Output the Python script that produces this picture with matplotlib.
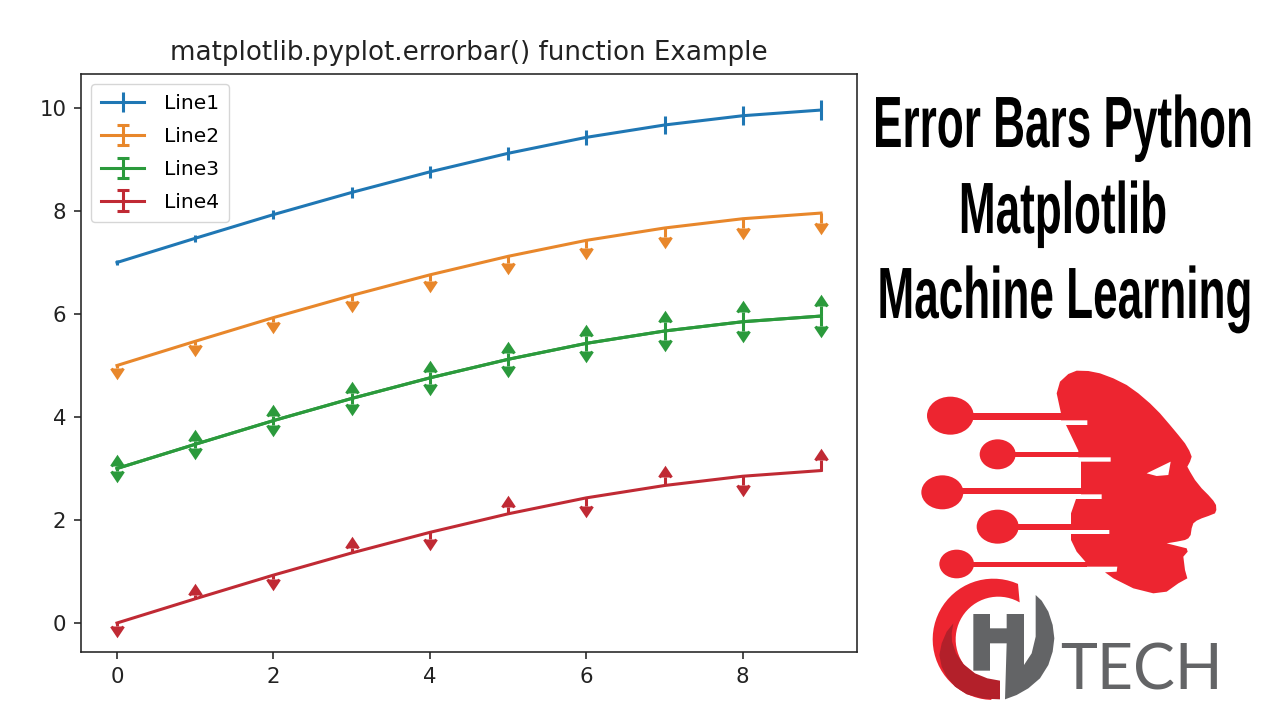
import numpy as np
import matplotlib
matplotlib.use('Agg')
import matplotlib.pyplot as plt
from matplotlib.patches import Polygon, Ellipse
from matplotlib.patheffects import AbstractPathEffect
from matplotlib.transforms import Affine2D

# Values
x = [0, 1, 2, 3, 4, 5, 6, 7, 8, 9]
line1 = [7.0, 7.47, 7.93, 8.36, 8.76, 9.12, 9.43, 9.67, 9.85, 9.96]
line2 = [5.0, 5.47, 5.93, 6.36, 6.76, 7.12, 7.43, 7.67, 7.85, 7.96]
line3 = [3.0, 3.47, 3.93, 4.36, 4.76, 5.12, 5.43, 5.67, 5.85, 5.96]
line4 = [0.0, 0.47, 0.93, 1.36, 1.76, 2.12, 2.43, 2.67, 2.85, 2.96]
yerr = [0.05, 0.07, 0.08, 0.1, 0.12, 0.13, 0.15, 0.17, 0.18, 0.2]
line4_up = [False, True, False, True, False, True, False, True, False, True]
line4_down = [True, False, True, False, True, False, True, False, True, False]
labels = ['Line1', 'Line2', 'Line3', 'Line4']
colors = ['#1f77b4', '#e8872b', '#2b9a3c', '#c02a34']
headings = ['Error Bars Python', 'Matplotlib', 'Machine Learning']

S = 1.43
LW = 2.2
CAP = 4.4

fig = plt.figure(figsize=(12.8, 7.2), dpi=100)
ax = fig.add_axes([81 / 1280, 1 - 652 / 720, 776 / 1280, 578 / 720])

style = dict(lw=LW, elinewidth=LW, capsize=CAP, capthick=LW)


def no_flat_caps(cont):
    # only the arrow heads show in the plot, the legend still gets its caps
    for c in cont[1]:
        if c.get_marker() == '_':
            c.set_marker('None')


ax.errorbar(x, line1, yerr=yerr, label=labels[0], color=colors[0], lw=LW, elinewidth=LW)
no_flat_caps(ax.errorbar(x, line2, yerr=yerr, uplims=True, label=labels[1], color=colors[1], **style))
no_flat_caps(ax.errorbar(x, line3, yerr=yerr, uplims=True, label=labels[2], color=colors[2], **style))
no_flat_caps(ax.errorbar(x, line3, yerr=yerr, lolims=True, color=colors[2], **style))
no_flat_caps(ax.errorbar(x, line4, yerr=yerr, uplims=line4_down, lolims=line4_up, label=labels[3],
                         color=colors[3], **style))

ax.set_xlim(-0.46, 9.46)
ax.set_ylim(-0.563, 10.66)
ax.set_xticks([0, 2, 4, 6, 8])
ax.set_yticks([0, 2, 4, 6, 8, 10])
ax.tick_params(labelsize=15.3, length=3.5 * S, width=0.8 * S, colors='#222222', pad=5.6)
for sp in ax.spines.values():
    sp.set_linewidth(0.8 * S)
    sp.set_color('#222222')
ax.set_title('matplotlib.pyplot.errorbar() function Example', fontsize=18.8,
             color='#222222', pad=10)
ax.legend(loc='upper left', fontsize=14.6, labelspacing=0.68, handlelength=2.1, handletextpad=1.0,
          borderpad=0.5, borderaxespad=0.5)

# Overlay in pixel coordinates for the right hand side
over = fig.add_axes([0, 0, 1, 1], facecolor='none')
over.set_xlim(0, 1280)
over.set_ylim(0, 720)
over.axis('off')


# the headings are Arial-like bold stretched tall, matplotlib has no option for that
class Stretch(AbstractPathEffect):
    def __init__(self, cx, cy, sx, sy):
        super().__init__()
        self.cx = cx
        self.cy = cy
        self.sx = sx
        self.sy = sy

    def draw_path(self, renderer, gc, tpath, affine, rgbFace=None):
        st = Affine2D().translate(-self.cx, -self.cy).scale(self.sx, self.sy).translate(self.cx, self.cy)
        renderer.draw_path(gc, tpath, affine + st, rgbFace)


# the logo was measured on a 3x crop starting at (900, 360)
def pt(zx, zy):
    return 900 + zx / 3, 720 - (360 + zy / 3)


def pts(seq):
    return [pt(a, b) for a, b in seq]


def arc(cx, cy, r, a0, a1, n=40):
    t = np.radians(np.linspace(a0, a1, n))
    return [(cx + r * np.cos(v), cy - r * np.sin(v)) for v in t]


heading_x = [1063, 1063, 1065]
heading_base = [147, 233, 318]
for txt, hx, hy in zip(headings, heading_x, heading_base):
    over.text(hx, 720 - hy, txt, ha='center', va='baseline', fontsize=34,
              fontweight='bold', color='black', family='Liberation Sans',
              path_effects=[Stretch(hx, 720 - hy, 0.934, 1.538)])

RED = '#ED2530'
DARK = '#B3202A'
GRAY = '#636466'

face = [(530, 32), (565, 33), (600, 40), (640, 55), (680, 75), (715, 100), (750, 130), (780, 160),
        (810, 195), (835, 225), (855, 250), (868, 272), (875, 290), (870, 305), (862, 320), (870, 335),
        (885, 360), (905, 385), (925, 405), (940, 422), (948, 435), (949, 450), (945, 460), (925, 468),
        (905, 475), (890, 482), (880, 490), (875, 505), (872, 525), (865, 535), (855, 540), (830, 545),
        (800, 550), (860, 565), (863, 575), (850, 590), (855, 630),
        (862, 655), (835, 670), (800, 695), (760, 700), (700, 685), (640, 655), (615, 637),
        (650, 635), (652, 620), (556, 620), (556, 605), (530, 575), (513, 540), (513, 522),
        (628, 522), (628, 510), (513, 510), (513, 460), (528, 417), (605, 417), (605, 403),
        (543, 403), (543, 305), (632, 305), (632, 292), (535, 292), (535, 272), (498, 195),
        (562, 195), (562, 181), (483, 181), (483, 160), (470, 100), (480, 65), (505, 42)]
over.add_patch(Polygon(pts(face), closed=True, fc=RED, ec='none'))
over.add_patch(Polygon(pts([(740, 340), (812, 305), (805, 345), (770, 348)]), closed=True,
                       fc='white', ec='none'))

balls = [(151, 167, 140, 114), (293, 283, 108, 90), (127, 397, 126, 102),
         (293, 500, 126, 102), (170, 612, 104, 86)]
stems = [(215, 160, 490, 181), (345, 275, 540, 292), (185, 385, 545, 403),
         (350, 492, 515, 510), (220, 605, 560, 620)]
for bx, by, bw, bh in balls:
    over.add_patch(Ellipse(pt(bx, by), bw / 3, bh / 3, fc=RED, ec='none'))
for a, b, c, d in stems:
    over.add_patch(Polygon(pts([(a, b), (c, b), (c, d), (a, d)]), closed=True, fc=RED, ec='none'))

# C ring of the small logo
ring = arc(280, 838, 182, 66, 268) + arc(295, 838, 128, 268, 60)
over.add_patch(Polygon(pts(ring), closed=True, fc=RED, ec='none'))
crescent = [(160, 790), (140, 815), (125, 850), (118, 885), (125, 920), (140, 950), (165, 980),
            (200, 1003), (250, 1016), (300, 1018), (300, 962), (262, 955), (225, 940), (190, 912),
            (168, 880), (156, 845), (155, 820)]
over.add_patch(Polygon(pts(crescent), closed=True, fc=DARK, ec='none'))

# H and the grey arc
over.add_patch(Polygon(pts([(220, 762), (270, 762), (270, 805), (320, 805), (320, 762), (372, 762),
                            (372, 915), (395, 880), (407, 830), (407, 705), (425, 722), (445, 755),
                            (458, 795), (463, 835), (458, 875), (445, 915), (420, 955), (385, 985),
                            (350, 1005), (315, 1018), (320, 850), (270, 850),
                            (270, 932), (220, 932)]), closed=True, fc=GRAY, ec='none'))

over.text(1141, 720 - 690, 'TECH', ha='center', va='baseline', fontsize=45, color=GRAY, family='Lato')

fig.savefig('out.png', dpi=100, facecolor='white')
